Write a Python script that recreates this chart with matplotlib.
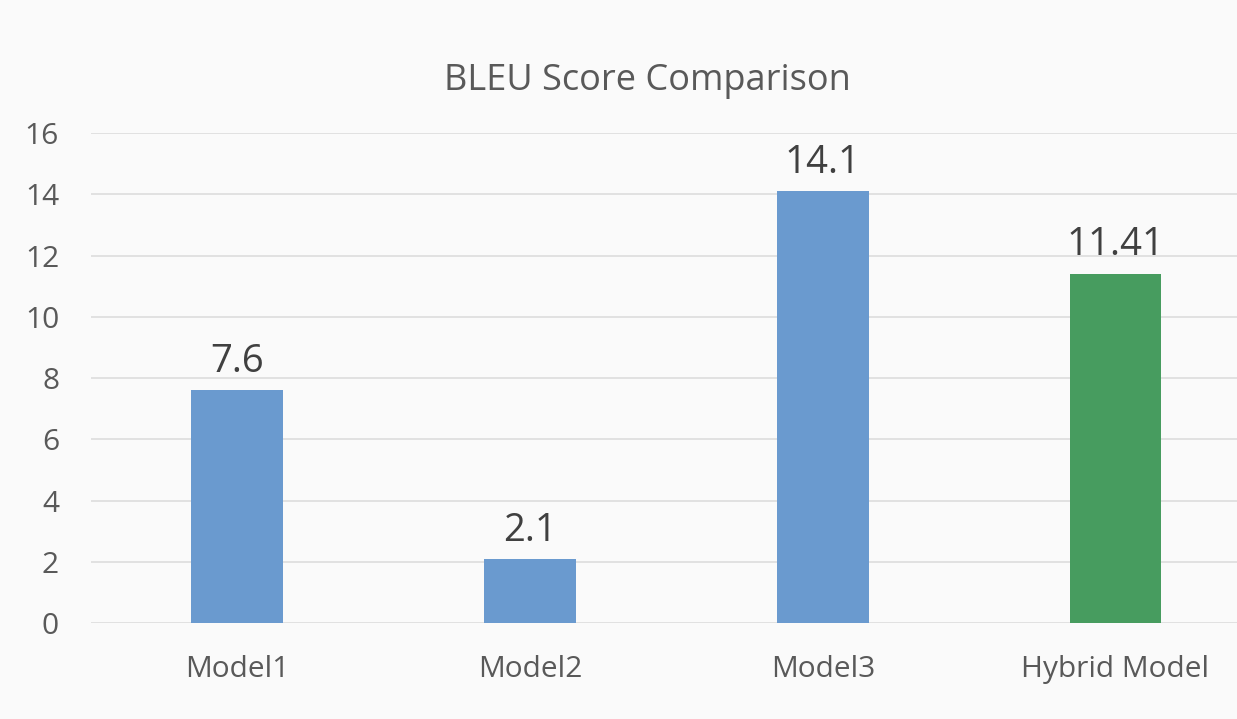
import numpy as np
import matplotlib
matplotlib.use("Agg")
from matplotlib import pyplot as plt

## data
models = ["Model1", "Model2", "Model3", "Hybrid Model"]
bleu = [7.6, 2.1, 14.1, 11.41]
bar_colors = ["#6a9acf", "#6a9acf", "#6a9acf", "#479c5f"]
yticks = [0, 2, 4, 6, 8, 10, 12, 14, 16]

plt.rcParams['font.family'] = ['Open Sans', 'DejaVu Sans']
txt = "#595959"

fig = plt.figure(figsize=(12.37, 7.19), dpi=100, facecolor="#fafafa")
ax = fig.add_axes([0.0736, 0.1335, 0.9264, 0.6815], facecolor="#fafafa")

x = np.arange(len(models))
ax.bar(x, bleu, width=0.314, color=bar_colors, zorder=3)
for xi, v in zip(x, bleu):
    ax.text(xi, v + 0.3, f"{v:g}", ha="center", va="bottom", fontsize=27.5, color="#404040")

ax.set_xlim(-0.5, 3.415)
ax.set_ylim(0, 16)
ax.set_yticks(yticks)
ax.set_xticks(x)
ax.set_xticklabels(models)
ax.grid(axis="y", color="#dcdcdc", linewidth=1.2, zorder=0)
for s in ax.spines.values():
    s.set_visible(False)
ax.tick_params(axis="both", length=0, labelsize=21.5, colors=txt)
ax.tick_params(axis="y", pad=23)
ax.tick_params(axis="x", pad=23)
fig.text(0.523, 0.887, "BLEU Score Comparison", ha="center", va="center", fontsize=26, color=txt)

plt.savefig("out.png", dpi=100, facecolor=fig.get_facecolor())
